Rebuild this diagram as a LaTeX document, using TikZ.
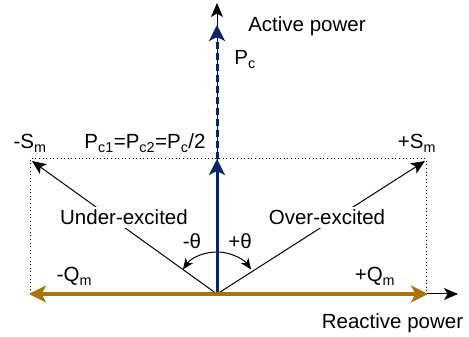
\documentclass[tikz,border=0pt]{standalone}
\usepackage{fontspec}
\setmainfont{Liberation Sans}
\usetikzlibrary{arrows.meta,calc}
\definecolor{navy}{RGB}{12,36,100}
\definecolor{ochre}{RGB}{168,114,12}
\tikzset{
  lbl/.style={font=\fontsize{20.5}{24}\selectfont, inner sep=0pt, anchor=base},
  thin axis/.style={line width=1pt, black},
  blk/.style={-{Stealth[length=14pt,width=12pt,inset=3.5pt]}},
  blu/.style={-{Stealth[length=16pt,width=16pt,inset=4pt]}},
}
\begin{document}
\begin{tikzpicture}[x=1pt,y=1pt]
\useasboundingbox (0,0) rectangle (469,337);
% key points
\coordinate (O) at (217,43);
\coordinate (ytop) at (217,334);
\coordinate (pctip) at (217,312);
\coordinate (pmid) at (217,178);
\coordinate (xend) at (458,43);
\coordinate (qneg) at (29,43);
\coordinate (qpos) at (428,43);
\coordinate (sneg) at (32,176);
\coordinate (spos) at (425,176);
\coordinate (bl) at (30,43);
\coordinate (tl) at (30,178);
\coordinate (tr) at (426,178);
\coordinate (br) at (426,43);
\coordinate (arcstart) at ($(O)+(144.3:42)$);
% dotted box
\draw[line width=1pt, dash pattern=on 1pt off 2.6pt] (bl) -- (tl) -- (tr) -- (br);
% axes
\draw[thin axis, blk] (O) -- (ytop);
\draw[thin axis, blk] (O) -- (xend);
% diagonals
\draw[thin axis, blk] (O) -- (sneg);
\draw[thin axis, blk] (O) -- (spos);
% angle arc
\draw[thin axis, {Stealth[length=11pt,width=9pt,inset=3pt]}-{Stealth[length=11pt,width=9pt,inset=3pt]}]
  (arcstart) arc[start angle=144.3, end angle=35.7, radius=42];
% blue active power
\draw[navy, line width=3pt, dash pattern=on 7pt off 4pt, blu] (pmid) -- (pctip);
\draw[navy, line width=3pt, blu] (O) -- (pmid);
% ochre reactive
\draw[ochre, line width=3.5pt, {Stealth[length=17pt,width=17pt,inset=4.5pt]}-{Stealth[length=17pt,width=17pt,inset=4.5pt]}] (qneg) -- (qpos);
% labels
\node[lbl] (act) at (307,305) {Active power};
\node[lbl] (react) at (392.5,8) {Reactive power};
\node[lbl] (pc) at (245,272) {P\textsubscript{c}};
\node[lbl] (pc12) at (145,188) {P\textsubscript{c1}=P\textsubscript{c2}=P\textsubscript{c}/2};
\node[lbl] (smn) at (30,188) {-S\textsubscript{m}};
\node[lbl] (smp) at (417,188) {+S\textsubscript{m}};
\node[lbl, fill=white, inner sep=3pt] (under) at (124,112) {Under-excited};
\node[lbl, fill=white, inner sep=3pt] (over) at (327,112) {Over-excited};
\node[lbl] (thn) at (192,88) {-θ};
\node[lbl] (thp) at (240,88) {+θ};
\node[lbl] (qmn) at (74.5,55) {-Q\textsubscript{m}};
\node[lbl] (qmp) at (375,55) {+Q\textsubscript{m}};
\end{tikzpicture}
\end{document}
